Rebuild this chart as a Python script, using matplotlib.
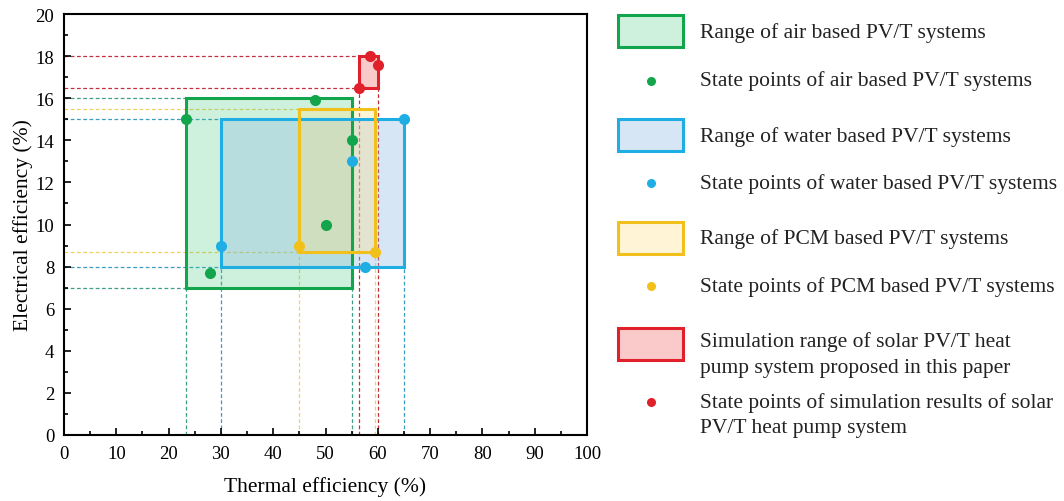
import matplotlib
matplotlib.use("Agg")
import matplotlib.pyplot as plt
from matplotlib.colors import to_rgba
from matplotlib.patches import Rectangle

plt.rcParams['font.family'] = ['Liberation Serif', 'DejaVu Serif']

# Ranges: (x_min, x_max, y_min, y_max) in thermal / electrical efficiency (%)
air_range = (23.3, 55.0, 7.0, 16.0)
water_range = (30.0, 65.0, 8.0, 15.0)
pcm_range = (45.0, 59.5, 8.7, 15.5)
sim_range = (56.5, 60.0, 16.5, 18.0)

# State points
air_x = [23.3, 48.0, 55.0, 50.0, 28.0]
air_y = [15.0, 15.9, 14.0, 10.0, 7.7]
water_x = [30.0, 65.0, 55.0, 57.5]
water_y = [9.0, 15.0, 13.0, 8.0]
pcm_x = [45.0, 59.5]
pcm_y = [9.0, 8.7]
sim_x = [56.5, 58.5, 60.0]
sim_y = [16.5, 18.0, 17.6]

labels = [
    "Range of air based PV/T systems",
    "State points of air based PV/T systems",
    "Range of water based PV/T systems",
    "State points of water based PV/T systems",
    "Range of PCM based PV/T systems",
    "State points of PCM based PV/T systems",
    "Simulation range of solar PV/T heat\npump system proposed in this paper",
    "State points of simulation results of solar\nPV/T heat pump system",
]

green = "#13a54b"
blue = "#1eaee4"
yellow = "#f2c01a"
red = "#e0202a"

W, H = 1064, 502
fig = plt.figure(figsize=(W / 100, H / 100), dpi=100)
ax = fig.add_axes([64 / W, 1 - 436 / H, (587 - 64) / W, (436 - 15) / H])

groups = [
    (air_range, air_x, air_y, green, "#3cc878", 0.25, "#3f9f86"),
    (water_range, water_x, water_y, blue, "#8fb8e0", 0.35, "#3a9cc0"),
    (pcm_range, pcm_x, pcm_y, yellow, "#ffe08a", 0.35, "#f2d060"),
    (sim_range, sim_x, sim_y, red, "#f58a8a", 0.45, "#c03040"),
]

# Dashed guide lines from the axes to each range box
for (x0, x1, y0, y1), _, _, edge, _, _, guide in groups:
    for yv in (y1, y0):
        ax.plot([0, x0], [yv, yv], ls=(0, (3, 2)), lw=0.9, color=guide, zorder=1)
    for xv in (x0, x1):
        ax.plot([xv, xv], [0, y0], ls=(0, (3, 2)), lw=0.9, color=guide, zorder=1)

# Range boxes: translucent fill with a solid outline
for (x0, x1, y0, y1), px, py, edge, fillc, alpha, _ in groups:
    ax.add_patch(Rectangle((x0, y0), x1 - x0, y1 - y0, facecolor=fillc,
                           alpha=alpha, edgecolor="none", zorder=2))
    ax.add_patch(Rectangle((x0, y0), x1 - x0, y1 - y0, facecolor="none",
                           edgecolor=edge, lw=2.2, zorder=3))

# State points
for (x0, x1, y0, y1), px, py, edge, fillc, alpha, _ in groups:
    ax.plot(px, py, "o", color=edge, ms=8, mec="none", zorder=4)

ax.set_xlim(0, 100)
ax.set_ylim(0, 20)
ax.set_xticks(range(0, 101, 10))
ax.set_xticks(range(5, 100, 10), minor=True)
ax.set_yticks(range(0, 21, 2))
ax.set_yticks(range(1, 20, 2), minor=True)
ax.tick_params(direction="in", which="both", labelsize=13.5, top=False, right=False, pad=7)
ax.tick_params(which="major", length=5, width=1.2)
ax.tick_params(which="minor", length=3, width=1.2)
for s in ax.spines.values():
    s.set_linewidth(1.5)
ax.set_xlabel("Thermal efficiency (%)", fontsize=15.5, labelpad=10)
ax.set_ylabel("Electrical efficiency (%)", fontsize=15.5, labelpad=2)

# Legend drawn in figure pixel positions: a box or a dot, then its text
handle_y = [32, 82, 136, 184, 239, 287, 345, 403]
text_y = [33, 81, 137, 184, 239, 287, 342, 403]
line_step = 26
for i, lab in enumerate(labels):
    (x0, x1, y0, y1), px, py, edge, fillc, alpha, _ = groups[i // 2]
    hy = 1 - handle_y[i] / H
    if i % 2 == 0:
        fig.patches.append(Rectangle((618 / W, hy - 16 / H), 65 / W, 32 / H,
                                     transform=fig.transFigure,
                                     facecolor=to_rgba(fillc, alpha),
                                     edgecolor=edge, lw=2.2))
    else:
        fig.lines.append(plt.Line2D([651 / W], [hy], marker="o", color=edge,
                                    ms=6.5, mec="none", transform=fig.transFigure))
    for k, line in enumerate(lab.split("\n")):
        fig.text(700 / W, 1 - (text_y[i] + k * line_step) / H, line,
                 fontsize=15.5, va="center", ha="left", color="#222222")

fig.savefig("out.png", dpi=100)
